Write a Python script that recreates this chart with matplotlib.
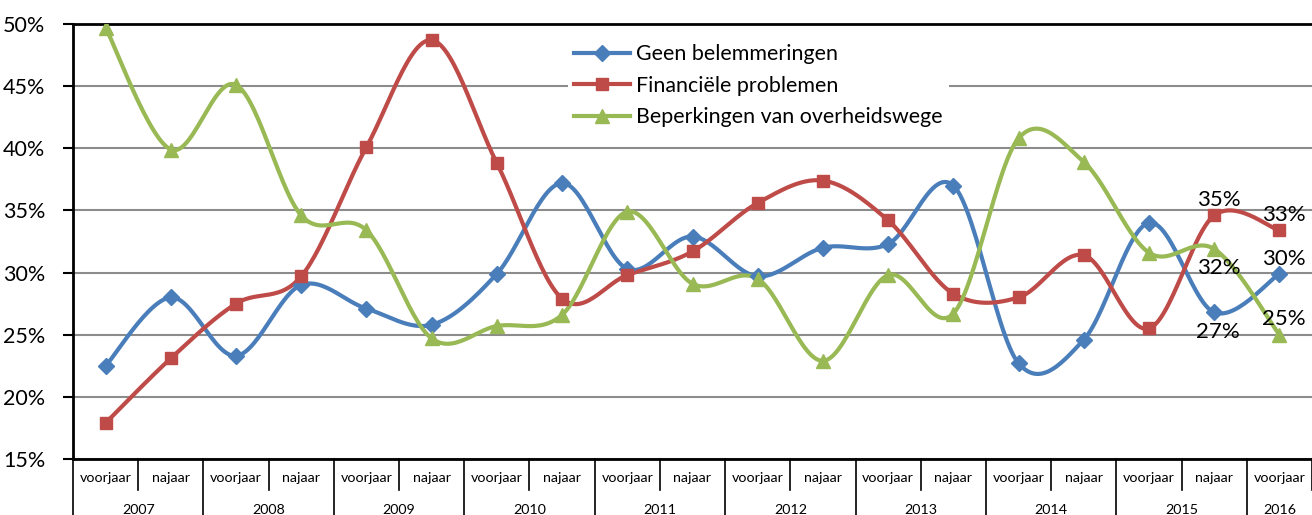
import numpy as np
import matplotlib
matplotlib.use("Agg")
import matplotlib.pyplot as plt

plt.rcParams['font.family'] = ['Lato', 'DejaVu Sans']

seasons = ["voorjaar", "najaar"] * 9 + ["voorjaar"]
years = ["2007", "2008", "2009", "2010", "2011", "2012", "2013", "2014", "2015", "2016"]

geen = [22.5, 28.0, 23.3, 29.0, 27.1, 25.8, 29.9, 37.2, 30.3, 32.9,
        29.7, 32.0, 32.3, 37.0, 22.7, 24.6, 34.0, 26.8, 29.9]
financieel = [17.9, 23.1, 27.5, 29.7, 40.1, 48.7, 38.8, 27.9, 29.8, 31.7,
              35.6, 37.4, 34.2, 28.3, 28.0, 31.4, 25.5, 34.6, 33.4]
overheid = [49.7, 39.9, 45.1, 34.6, 33.4, 24.7, 25.7, 26.6, 34.9, 29.1,
            29.5, 22.9, 29.8, 26.7, 40.8, 38.9, 31.6, 31.9, 25.0]

series_names = ["Geen belemmeringen", "Financiële problemen", "Beperkingen van overheidswege"]
colors = ["#4A7EBB", "#BE4B48", "#98B954"]
markers = ["D", "s", "^"]
msizes = [8, 8, 10]

# labels for last two points: (series index, point index, text, above?)
end_labels = [
    (1, 17, "35%", True), (1, 18, "33%", True),
    (0, 17, "27%", False), (0, 18, "30%", True),
    (2, 17, "32%", False), (2, 18, "25%", True),
]


def smooth(xs, ys, n=30):
    xs = np.asarray(xs, float)
    ys = np.asarray(ys, float)
    P = np.column_stack([xs, ys])
    m = len(P)
    out = []
    for i in range(m - 1):
        p0 = P[max(i - 1, 0)]
        p1 = P[i]
        p2 = P[i + 1]
        p3 = P[min(i + 2, m - 1)]
        c1 = p1 + (p2 - p0) / 6.0
        c2 = p2 - (p3 - p1) / 6.0
        t = np.linspace(0, 1, n)[:, None]
        b = ((1 - t) ** 3) * p1 + 3 * ((1 - t) ** 2) * t * c1 + 3 * (1 - t) * t ** 2 * c2 + t ** 3 * p2
        out.append(b if i == 0 else b[1:])
    B = np.vstack(out)
    return B[:, 0], B[:, 1]


W, H = 1312, 515
fig = plt.figure(figsize=(W / 100, H / 100), dpi=100)
left, right, top, bottom = 73, 1312, 24, 459
ax = fig.add_axes([left / W, 1 - bottom / H, (right - left) / W, (bottom - top) / H])

x = np.arange(len(seasons))
data = [geen, financieel, overheid]
handles = []
for vals, c, mk, ms, name in zip(data, colors, markers, msizes, series_names):
    sx, sy = smooth(x, vals)
    ax.plot(sx, sy, color=c, lw=3, solid_capstyle='round', zorder=3)
    ax.plot(x, vals, linestyle='none', marker=mk, ms=ms, color=c, mec=c, zorder=4)
    h, = ax.plot([], [], color=c, lw=3, marker=mk, ms=ms, mec=c, label=name)
    handles.append(h)

for si, pi, txt, above in end_labels:
    v = data[si][pi]
    ax.annotate(txt, (x[pi], v), xytext=(3, 11 if above else -14), textcoords='offset points',
                ha='center', va='center', fontsize=16, color='black', zorder=6)

ax.set_xlim(-0.5, len(seasons) - 0.5)
ax.set_ylim(15, 50)
ax.set_yticks(np.arange(15, 51, 5))
ax.set_yticklabels([f"{v}%" for v in range(15, 51, 5)], fontsize=15.5)
ax.yaxis.grid(True, color='#8C8C8C', lw=1.5, zorder=1)
ax.set_axisbelow(True)
ax.tick_params(axis='y', direction='out', length=7, width=1.5, pad=13)
ax.tick_params(axis='x', length=0, labelbottom=False)
for s in ['left', 'bottom', 'top']:
    ax.spines[s].set_color('black')
    ax.spines[s].set_linewidth(2)
ax.spines['right'].set_visible(False)

# multi-level category axis
tr = ax.get_xaxis_transform()
axh = bottom - top
short_y = -(490 - bottom) / axh
long_y = -(H - bottom) / axh
lab_y = -(478 - bottom) / axh
year_y = -(510 - bottom) / axh
for i in range(len(seasons) + 1):
    b = i - 0.5
    yend = long_y if i % 2 == 0 else short_y
    ax.plot([b, b], [0, yend], transform=tr, color='black', lw=1.2, clip_on=False)
for i, s in enumerate(seasons):
    ax.text(i, lab_y, s, transform=tr, ha='center', va='center', fontsize=10.3)
for k, yr in enumerate(years):
    first = 2 * k
    last = min(2 * k + 1, len(seasons) - 1)
    ax.text((first + last) / 2, year_y, yr, transform=tr, ha='center', va='center', fontsize=10.3)

leg = ax.legend(handles=handles, loc='upper left', bbox_to_anchor=((568 - left) / (right - left), 1 - (38 - top) / axh),
                frameon=True, fontsize=15.4, handlelength=2.6, handletextpad=0.3, labelspacing=0.53,
                borderpad=0.3, borderaxespad=0)
leg.get_frame().set_facecolor('white')
leg.get_frame().set_edgecolor('none')
leg.get_frame().set_alpha(1)
leg.set_zorder(5)

fig.savefig("out.png", dpi=100)
